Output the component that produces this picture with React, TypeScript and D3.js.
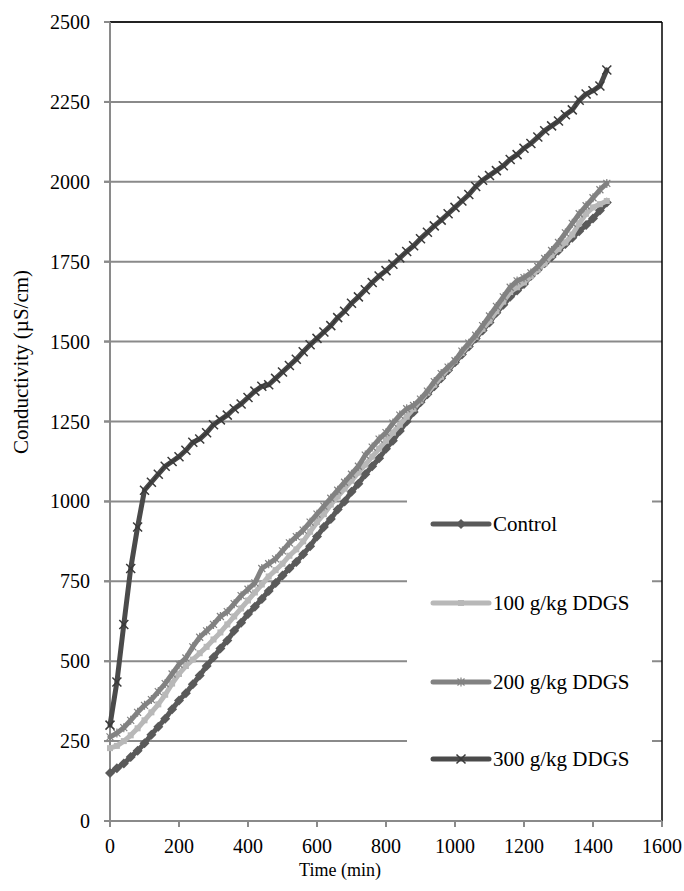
import * as d3 from "d3";

// time points every 20 min, 0..1440
const times = d3.range(0, 1441, 20);

const control = [150, 165, 180, 200, 220, 243, 270, 295, 320, 350, 377, 400, 428, 455, 485, 512, 540, 565, 595, 620, 648, 670, 695, 720, 745, 768, 790, 810, 835, 860, 890, 920, 945, 975, 1000, 1030, 1055, 1085, 1110, 1135, 1165, 1190, 1220, 1250, 1280, 1310, 1335, 1360, 1385, 1410, 1435, 1460, 1485, 1510, 1535, 1560, 1590, 1615, 1640, 1660, 1680, 1705, 1725, 1745, 1765, 1785, 1805, 1825, 1845, 1865, 1885, 1910, 1935];
const ddgs100 = [228, 235, 250, 268, 290, 315, 340, 365, 395, 430, 460, 485, 505, 525, 545, 568, 590, 615, 640, 665, 690, 715, 740, 765, 785, 805, 830, 850, 875, 905, 935, 960, 990, 1015, 1040, 1065, 1090, 1115, 1140, 1165, 1190, 1215, 1240, 1265, 1290, 1315, 1340, 1365, 1390, 1415, 1440, 1465, 1490, 1515, 1540, 1565, 1595, 1625, 1655, 1670, 1685, 1705, 1725, 1745, 1770, 1790, 1810, 1835, 1870, 1900, 1920, 1930, 1940];
const ddgs200 = [263, 275, 292, 315, 340, 362, 380, 405, 430, 460, 490, 510, 545, 575, 595, 615, 640, 655, 680, 705, 725, 745, 790, 805, 820, 845, 870, 890, 910, 935, 960, 985, 1010, 1035, 1060, 1085, 1110, 1145, 1170, 1195, 1215, 1245, 1270, 1290, 1300, 1320, 1345, 1375, 1400, 1420, 1440, 1470, 1495, 1520, 1550, 1580, 1610, 1640, 1670, 1690, 1700, 1715, 1735, 1760, 1785, 1810, 1840, 1870, 1900, 1925, 1950, 1975, 1995];
const ddgs300 = [300, 435, 615, 790, 920, 1035, 1060, 1085, 1110, 1125, 1140, 1160, 1185, 1195, 1215, 1240, 1255, 1270, 1290, 1305, 1325, 1345, 1360, 1365, 1385, 1405, 1425, 1445, 1468, 1490, 1510, 1530, 1550, 1575, 1595, 1620, 1640, 1662, 1685, 1705, 1722, 1742, 1762, 1782, 1800, 1822, 1842, 1862, 1880, 1900, 1920, 1940, 1960, 1985, 2005, 2020, 2035, 2050, 2070, 2085, 2105, 2120, 2140, 2160, 2175, 2190, 2210, 2225, 2255, 2275, 2285, 2300, 2350];

const seriesNames = ["Control", "100 g/kg DDGS", "200 g/kg DDGS", "300 g/kg DDGS"];
const seriesValues = [control, ddgs100, ddgs200, ddgs300];
const seriesColors = ["#5a5a5a", "#b8b8b8", "#828282", "#4a4a4a"];
const seriesMarkers = ["diamond", "square", "star", "x"];

const xTicks = [0, 200, 400, 600, 800, 1000, 1200, 1400, 1600];
const yTicks = [0, 250, 500, 750, 1000, 1250, 1500, 1750, 2000, 2250, 2500];

const W = 684, H = 891;
const left = 110, right = 662, top = 22, bottom = 821;
const font = '"Times New Roman", "Liberation Serif", serif';

const x = d3.scaleLinear().domain([0, 1600]).range([left, right]);
const y = d3.scaleLinear().domain([0, 2500]).range([bottom, top]);

function Marker({ kind, cx, cy, color }: { kind: string; cx: number; cy: number; color: string }) {
  if (kind === "diamond") {
    const s = 5;
    return <path d={`M${cx},${cy - s}L${cx + s},${cy}L${cx},${cy + s}L${cx - s},${cy}Z`} fill={color} />;
  }
  if (kind === "square") {
    return <rect x={cx - 3} y={cy - 3} width={6} height={6} fill={color} />;
  }
  if (kind === "star") {
    const s = 3.5;
    return (
      <path
        d={`M${cx - s},${cy - s}L${cx + s},${cy + s}M${cx - s},${cy + s}L${cx + s},${cy - s}M${cx},${cy - s - 1}L${cx},${cy + s + 1}`}
        stroke={color} strokeWidth={1.2} fill="none"
      />
    );
  }
  const s = 4.5;
  return (
    <path
      d={`M${cx - s},${cy - s}L${cx + s},${cy + s}M${cx - s},${cy + s}L${cx + s},${cy - s}`}
      stroke="#3a3a3a" strokeWidth={1.5} fill="none"
    />
  );
}

export default function App() {
  const line = d3.line<number>().x((_, i) => x(times[i])).y((d) => y(d));
  const legendY = [524, 603, 682, 759];

  return (
    <div style={{ position: "absolute", left: 0, top: 0 }}>
      <svg width={W} height={H} style={{ display: "block", background: "#fff", fontFamily: font }}>
        {/* gridlines */}
        {yTicks.slice(1).map((t) => (
          <line key={t} x1={left - 6} x2={right} y1={y(t)} y2={y(t)} stroke="#8a8a8a" strokeWidth={2} />
        ))}
        {/* plot border */}
        <line x1={left} x2={right} y1={top} y2={top} stroke="#000" strokeWidth={1.5} />
        <line x1={right} x2={right} y1={top} y2={bottom} stroke="#000" strokeWidth={1.5} />

        {/* legend box */}
        <rect x={407} y={455} width={245} height={345} fill="#fff" />

        {/* axes */}
        <line x1={left} x2={left} y1={top} y2={bottom} stroke="#8a8a8a" strokeWidth={2} />
        <line x1={left - 6} x2={right} y1={bottom} y2={bottom} stroke="#8a8a8a" strokeWidth={2} />
        {yTicks.map((t) => (
          <g key={t}>
            <line x1={left - 6} x2={left} y1={y(t)} y2={y(t)} stroke="#8a8a8a" strokeWidth={2} />
            <text x={90} y={y(t)} textAnchor="end" dominantBaseline="central" fontSize={20} fill="#000">{t}</text>
          </g>
        ))}
        {xTicks.map((t) => (
          <g key={t}>
            <line x1={x(t)} x2={x(t)} y1={bottom} y2={bottom + 6} stroke="#8a8a8a" strokeWidth={2} />
            <text x={x(t)} y={853} textAnchor="middle" fontSize={20} fill="#000">{t}</text>
          </g>
        ))}

        {/* series */}
        {seriesValues.map((vals, si) => (
          <g key={si}>
            <path d={line(vals) || ""} fill="none" stroke={seriesColors[si]} strokeWidth={5} strokeLinejoin="round" strokeLinecap="round" />
            {vals.map((v, i) => (
              <Marker key={i} kind={seriesMarkers[si]} cx={x(times[i])} cy={y(v)} color={seriesColors[si]} />
            ))}
          </g>
        ))}

        {/* legend */}
        {seriesNames.map((n, i) => (
          <g key={n}>
            <line x1={433} x2={489} y1={legendY[i]} y2={legendY[i]} stroke={seriesColors[i]} strokeWidth={5} strokeLinecap="round" />
            <Marker kind={seriesMarkers[i]} cx={461} cy={legendY[i]} color={seriesColors[i]} />
            <text x={493} y={legendY[i]} dominantBaseline="central" fontSize={21} fill="#000">{n}</text>
          </g>
        ))}

        {/* axis titles */}
        <text x={340} y={876} textAnchor="middle" fontSize={18} fill="#000">Time (min)</text>
        <text transform="translate(28,362) rotate(-90)" textAnchor="middle" fontSize={21} fill="#000">Conductivity (µS/cm)</text>
      </svg>
    </div>
  );
}
